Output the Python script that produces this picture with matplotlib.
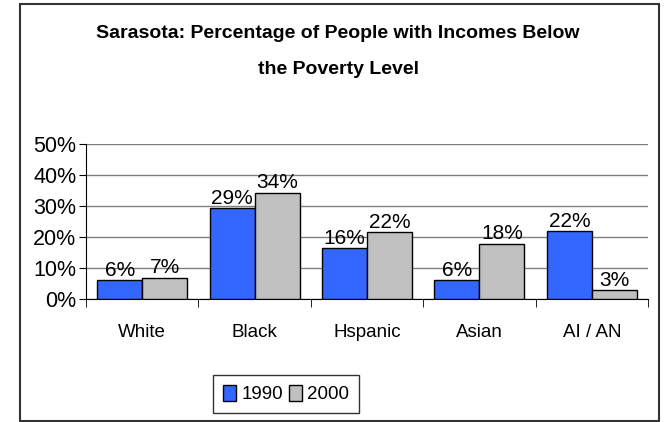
import numpy as np
import matplotlib
matplotlib.use("Agg")
import matplotlib.pyplot as plt
from matplotlib.patches import Rectangle

categories = ["White", "Black", "Hspanic", "Asian", "AI / AN"]
pct_1990 = [0.061, 0.294, 0.164, 0.061, 0.219]
pct_2000 = [0.069, 0.343, 0.216, 0.179, 0.029]
series_names = ["1990", "2000"]
yticks = [0, 0.1, 0.2, 0.3, 0.4, 0.5]

plt.rcParams['font.family'] = ['Liberation Sans', 'DejaVu Sans']

fig = plt.figure(figsize=(6.65, 4.22), dpi=100)
W, H = 665, 422

# outer chart border
fig.patches.append(Rectangle((20 / W, 1 - 421 / H), 639 / W, 417 / H, transform=fig.transFigure,
                             fill=False, edgecolor='#333333', linewidth=1.5))

ax = fig.add_axes([86 / W, 1 - 299 / H, 562 / W, 155 / H])

x = np.arange(len(categories))
w = 0.4
b1 = ax.bar(x - w / 2, pct_1990, w, color='#3366FF', edgecolor='black', linewidth=1, label=series_names[0], zorder=3)
b2 = ax.bar(x + w / 2, pct_2000, w, color='#C0C0C0', edgecolor='black', linewidth=1, label=series_names[1], zorder=3)

for bars, vals in [(b1, pct_1990), (b2, pct_2000)]:
    for r, v in zip(bars, vals):
        ax.text(r.get_x() + r.get_width() / 2, v + 0.001, f"{v:.0%}", ha='center', va='bottom',
                fontsize=15, zorder=4)

ax.set_xlim(-0.5, len(categories) - 0.5)
ax.set_ylim(0, 0.5)
ax.set_yticks(yticks)
ax.set_yticklabels([f"{t:.0%}" for t in yticks], fontsize=15.5)
ax.yaxis.grid(True, color='#808080', linewidth=1, zorder=0)
ax.tick_params(axis='y', direction='out', length=5, pad=2)

ax.set_xticks(x)
ax.set_xticklabels(categories, fontsize=13.5)
ax.tick_params(axis='x', which='major', length=0, pad=18)
ax.set_xticks(np.arange(len(categories) + 1) - 0.5, minor=True)
ax.tick_params(axis='x', which='minor', direction='out', length=6)

for s in ['top', 'right']:
    ax.spines[s].set_visible(False)

fig.text(338 / W, 1 - 33 / H, "Sarasota: Percentage of People with Incomes Below",
         ha='center', va='center', fontsize=14, fontweight='bold')
fig.text(338 / W, 1 - 70 / H, "the Poverty Level",
         ha='center', va='center', fontsize=14, fontweight='bold')

leg = fig.legend(handles=[b1, b2], labels=series_names, loc='center', ncol=2,
                 bbox_to_anchor=(286 / W, 1 - 394 / H), fontsize=13.5, frameon=True, fancybox=False,
                 handlelength=0.7, handleheight=1.0, handletextpad=0.3, columnspacing=0.3,
                 borderpad=0.5)
leg.get_frame().set_edgecolor('black')
leg.get_frame().set_linewidth(1)

fig.savefig("out.png", dpi=100)
